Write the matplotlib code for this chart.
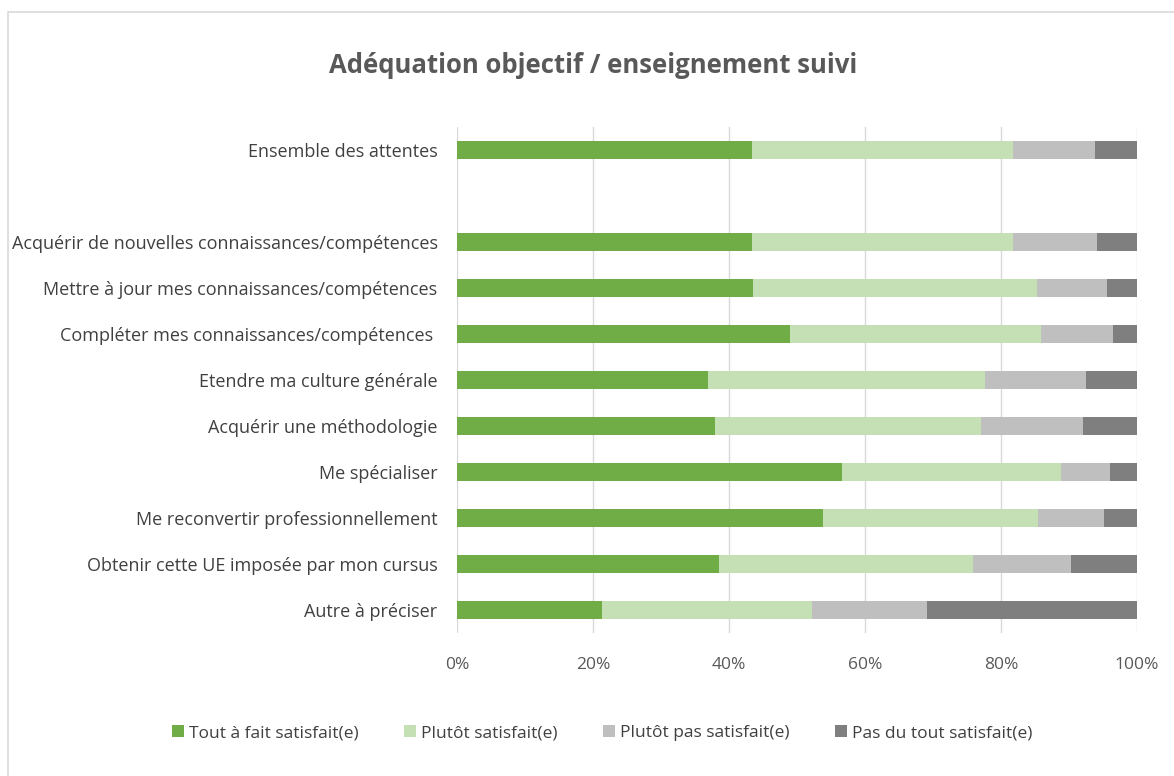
import matplotlib.pyplot as plt
from matplotlib.patches import Rectangle
from matplotlib.ticker import PercentFormatter
import numpy as np

plt.rcParams['font.family'] = ['Open Sans', 'DejaVu Sans']

categories = [
    "Ensemble des attentes",
    "",
    "Acquérir de nouvelles connaissances/compétences",
    "Mettre à jour mes connaissances/compétences",
    "Compléter mes connaissances/compétences ",
    "Etendre ma culture générale",
    "Acquérir une méthodologie",
    "Me spécialiser",
    "Me reconvertir professionnellement",
    "Obtenir cette UE imposée par mon cursus",
    "Autre à préciser",
]

series_names = ["Tout à fait satisfait(e)", "Plutôt satisfait(e)",
                "Plutôt pas satisfait(e)", "Pas du tout satisfait(e)"]

tout_a_fait = [43.4, 0, 43.4, 43.5, 49.0, 36.9, 37.9, 56.6, 53.8, 38.5, 21.3]
plutot = [38.4, 0, 38.4, 41.8, 36.9, 40.7, 39.2, 32.2, 31.6, 37.4, 30.9]
plutot_pas = [12.0, 0, 12.3, 10.3, 10.6, 14.9, 15.0, 7.2, 9.7, 14.4, 16.9]
pas_du_tout = [6.2, 0, 5.9, 4.4, 3.5, 7.5, 7.9, 4.0, 4.9, 9.7, 30.9]

colors = ["#70AD47", "#C5E0B4", "#BFBFBF", "#7F7F7F"]

fig = plt.figure(figsize=(11.74, 7.76), dpi=100)
ax = fig.add_axes([0.3893, 0.1843, 0.5792, 0.652])

# outer frame like the spreadsheet chart area
fig.patches.append(Rectangle((8 / 1174, -0.01), 1.2, 1 - 12 / 776 + 0.01,
                             transform=fig.transFigure, fill=False,
                             edgecolor="#D9D9D9", linewidth=1.2))

y = np.arange(len(categories))
left = np.zeros(len(categories))
for name, vals, c in zip(series_names, [tout_a_fait, plutot, plutot_pas, pas_du_tout], colors):
    vals = np.array(vals)
    ax.barh(y, vals, left=left, height=0.4, color=c, label=name, linewidth=0)
    left += vals

ax.set_ylim(len(categories) - 0.5, -0.5)
ax.set_xlim(0, 100)
ax.set_yticks(y)
ax.set_yticklabels(categories, fontsize=13, color="#404040")
ax.set_xticks(np.arange(0, 101, 20))
ax.xaxis.set_major_formatter(PercentFormatter(decimals=0))
ax.tick_params(axis='x', colors="#595959", labelsize=12.5, length=0, pad=17)
ax.tick_params(axis='y', length=0, pad=14)
ax.grid(axis='x', color="#D9D9D9", linewidth=1)
ax.set_axisbelow(True)
for s in ax.spines.values():
    s.set_visible(False)

fig.text(0.505, 0.915, "Adéquation objectif / enseignement suivi", ha='center', va='center',
         fontsize=18.5, fontweight='bold', color="#595959")

fig.legend(loc='center', bbox_to_anchor=(0.513, 0.055), ncol=4, frameon=False,
           fontsize=12.5, labelcolor="#404040", handlelength=0.7, handleheight=0.7,
           handletextpad=0.3, columnspacing=2.6)

fig.savefig("out.png", dpi=100)
